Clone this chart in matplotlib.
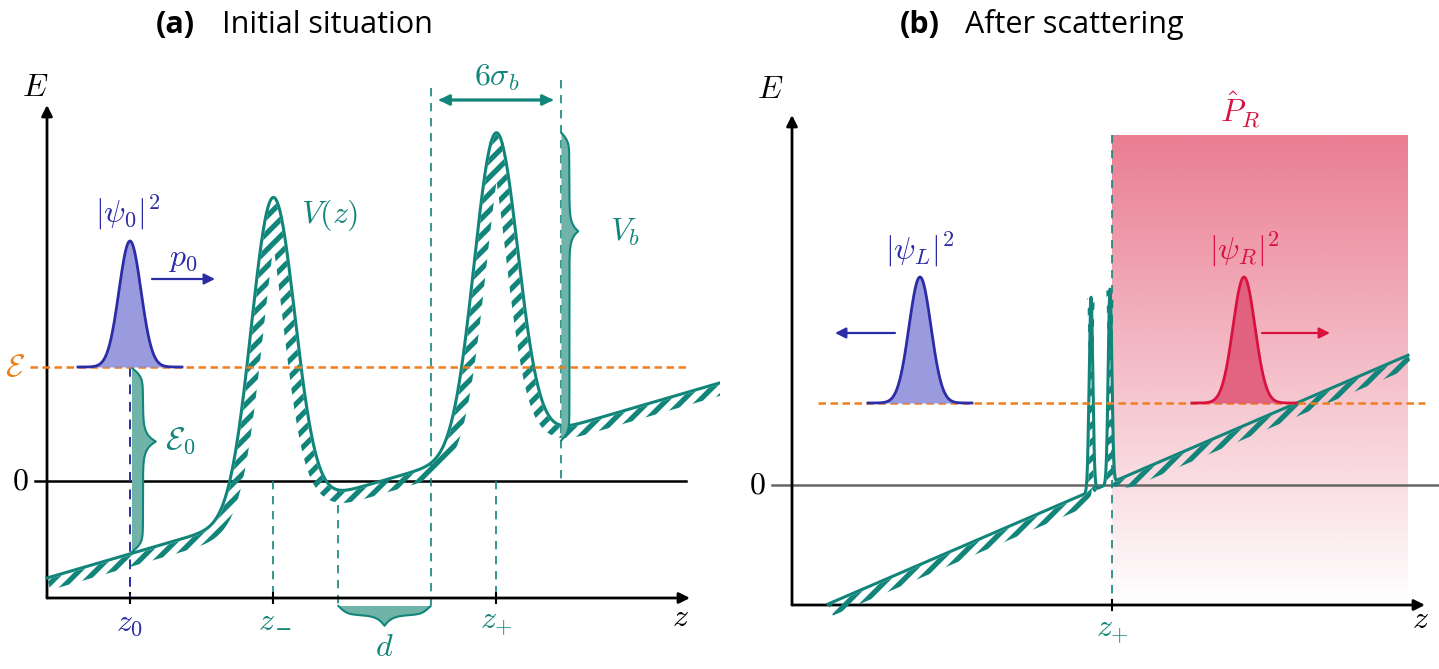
import numpy as np
import matplotlib.pyplot as plt
from matplotlib.patches import Polygon

plt.rcParams['mathtext.fontset'] = 'cm'
plt.rcParams['hatch.linewidth'] = 3.8

TEAL = '#12857b'
TEAL_FILL = '#6fb3a9'
BLUE = '#2c2ca6'
BLUE_FILL = '#8f8fdb'
RED = '#d8123f'
RED_FILL = '#e05a78'
ORANGE = '#f07f1a'

# ---- panel (a): initial situation (1 unit = 100 px) ----
a_background = [-0.97, 0.29]          # offset, slope
a_barriers = [2.26, 4.49]             # z-, z+
a_height = 3.15                       # V_b
a_sigma = 0.218                       # sigma_b
a_energy = 1.14                       # calligraphic E
a_z0 = 0.83
a_zrange = [0.0, 6.73]
a_axes_end = [6.43, 3.76]             # z-axis end, E-axis end
a_bottom = -1.17

# ---- panel (b): after scattering ----
b_background = [-1.345, 0.429]
b_barriers = [2.99, 3.18]
b_height = 1.94
b_sigma = 0.018
b_energy = 0.82
b_zplus = 3.20
b_packets = [1.28, 4.52]              # left / right packet centres
b_zrange = [0.36, 6.16]
b_axes_end = [6.33, 3.70]
b_bottom = -1.20
b_proj_top = 3.50

packet_height = 1.26
packet_sigma = 0.11


def potential(z, bg, pos, height, sigma):
    v = bg[0] + bg[1] * z
    for p in pos:
        v = v + height * np.exp(-(z - p) ** 2 / (2 * sigma ** 2))
    return v


def hatch_band(ax, z, v, d_in=1.5, d_out=12.5):
    pts = ax.transData.transform(np.column_stack([z, v]))
    d = np.gradient(pts, axis=0)
    d /= np.hypot(d[:, 0], d[:, 1])[:, None]
    n = np.column_stack([d[:, 1], -d[:, 0]])
    d_out = np.broadcast_to(d_out, z.shape)[:, None]
    poly = np.vstack([pts + n * d_in, (pts + n * d_out)[::-1]])
    poly = ax.transData.inverted().transform(poly)
    ax.add_patch(Polygon(poly, closed=True, facecolor='none',
                         edgecolor=TEAL, lw=0, hatch='//', zorder=3))


def brace(ax, p0, p1, body, tip, tip_frac=0.5, end=0.09, sharp=0.07):
    p0, p1 = np.array(p0), np.array(p1)
    L = np.hypot(*(p1 - p0))
    u = (p1 - p0) / L
    n = np.array([u[1], -u[0]])
    t = np.linspace(0, L, 400)
    off = body * np.tanh(t / end) * np.tanh((L - t) / end)
    off += (tip - body) * np.exp(-np.abs(t - tip_frac * L) / sharp)
    base = p0 + np.outer(t, u)
    curve = base + np.outer(off, n)
    ax.add_patch(Polygon(np.vstack([base, curve[::-1]]), closed=True,
                         facecolor=TEAL_FILL, edgecolor='none', zorder=4))
    ax.plot(curve[:, 0], curve[:, 1], color=TEAL, lw=1.5, zorder=5)


def packet(ax, zc, base, fill, edge):
    z = np.linspace(zc - 0.52, zc + 0.52, 300)
    y = base + packet_height * np.exp(-(z - zc) ** 2 / (2 * packet_sigma ** 2))
    ax.fill_between(z, base, y, color=fill, alpha=0.9, lw=0, zorder=6)
    ax.plot(z, y, color=edge, lw=2, zorder=7)


def arrow(ax, start, end, color, lw=1.6, scale=16):
    ax.annotate('', xy=end, xytext=start,
                arrowprops=dict(arrowstyle='-|>', color=color, lw=lw,
                                mutation_scale=scale, shrinkA=0, shrinkB=0))


def dashed(ax, x, y0, y1, color=TEAL, lw=1.2):
    ax.plot([x, x], [y0, y1], color=color, lw=lw, ls=(0, (5, 4)), zorder=2)


fig = plt.figure(figsize=(14.39, 6.69), dpi=100)
axa = fig.add_axes([0, 0, 720 / 1439, 619 / 669])
axb = fig.add_axes([725 / 1439, 0, 714 / 1439, 619 / 669])
axa.set_xlim(-0.47, 6.73)
axa.set_ylim(-1.88, 4.31)
axb.set_xlim(-0.67, 6.47)
axb.set_ylim(-1.84, 4.35)
for ax in (axa, axb):
    ax.axis('off')

lab = dict(fontsize=23, ha='center', va='center')

# ================= panel (a) =================
ax = axa
arrow(ax, (0, a_bottom), (a_axes_end[0], a_bottom), 'black', lw=2)
arrow(ax, (0, a_bottom), (0, a_axes_end[1]), 'black', lw=2)
ax.plot([-0.12, 6.39], [0, 0], color='black', lw=1.8, zorder=1)
ax.plot([-0.17, 6.39], [a_energy, a_energy], color=ORANGE, lw=1.8,
        ls=(0, (3, 1.8)), zorder=5)

z = np.linspace(a_zrange[0], a_zrange[1], 3000)
v = potential(z, a_background, a_barriers, a_height, a_sigma)
ax.plot(z, v, color=TEAL, lw=2.2, zorder=4)
hatch_band(ax, z, v)

zm, zp = a_barriers
s3 = 3 * a_sigma
v_at = lambda x: potential(np.array(x), a_background, a_barriers, a_height, a_sigma)
dashed(ax, zm, 0, a_bottom)
dashed(ax, zp, 0, a_bottom)
dashed(ax, zm + s3, v_at(zm + s3), -1.24)
dashed(ax, zp - s3, 3.93, -1.24)
dashed(ax, zp + s3, 4.01, 0)
for zt in (a_z0, zm, zp):
    ax.plot([zt, zt], [a_bottom - 0.05, a_bottom + 0.05], color='black', lw=1.5)

# wave packet
dashed(ax, a_z0, a_energy, a_bottom, color=BLUE, lw=1.4)
packet(ax, a_z0, a_energy, BLUE_FILL, BLUE)
arrow(ax, (1.05, 2.02), (1.68, 2.02), BLUE)

# braces
brace(ax, (a_z0 + 0.02, v_at(a_z0) + 0.02), (a_z0 + 0.02, a_energy - 0.01),
      0.11, 0.24, tip_frac=0.6)
brace(ax, (zp + s3, v_at(zp + s3) - 0.15), (zp + s3, v_at(zp)),
      0.08, 0.17, tip_frac=0.68)
brace(ax, (zm + s3, -1.25), (zp - s3, -1.25), 0.09, 0.2, tip_frac=0.5)
arrow(ax, (zp - s3 + 0.1, 3.81), (zp + s3 - 0.08, 3.81), TEAL, lw=2)
arrow(ax, (zp + s3 - 0.1, 3.81), (zp - s3 + 0.08, 3.81), TEAL, lw=2)

ax.text(-0.12, 3.93, r'$E$', color='black', **lab)
ax.text(6.33, -1.37, r'$z$', color='black', **lab)
ax.text(-0.27, 0, r'$0$', color='black', **lab)
ax.text(-0.32, a_energy, r'$\mathcal{E}$', color=ORANGE, **lab)
ax.text(0.81, 2.68, r'$|\psi_0|^2$', color=BLUE, **lab)
ax.text(1.36, 2.23, r'$p_0$', color=BLUE, **lab)
ax.text(2.83, 2.66, r'$V(z)$', color=TEAL, **lab)
ax.text(5.78, 2.49, r'$V_b$', color=TEAL, **lab)
ax.text(1.33, 0.41, r'$\mathcal{E}_0$', color=TEAL, **lab)
ax.text(4.50, 4.03, r'$6\sigma_b$', color=TEAL, **lab)
ax.text(a_z0, -1.41, r'$z_0$', color=BLUE, **lab)
# mathtext drops a lone subscript minus with the cm fontset: draw it apart
ax.text(zm - 0.07, -1.41, r'$z$', color=TEAL, **lab)
ax.annotate('\u2212', xy=(zm - 0.07, -1.41), xytext=(13, -6),
            textcoords='offset points', color=TEAL, fontsize=15,
            family='DejaVu Serif', ha='center', va='center')
ax.text(zp, -1.41, r'$z_{+}$', color=TEAL, **lab)
ax.text((zm + zp) / 2, -1.67, r'$d$', color=TEAL, **lab)

# ================= panel (b) =================
ax = axb
grad = np.zeros((200, 2, 4))
grad[..., 0] = 225 / 255
grad[..., 1] = 70 / 255
grad[..., 2] = 100 / 255
grad[..., 3] = np.linspace(0.7, 0.0, 200)[:, None]
ax.imshow(grad, extent=[b_zplus, b_zrange[1], b_bottom, b_proj_top],
          aspect='auto', zorder=0, interpolation='bilinear')
ax.set_xlim(-0.67, 6.47)
ax.set_ylim(-1.84, 4.35)

arrow(ax, (0, b_bottom), (b_axes_end[0], b_bottom), 'black', lw=2)
arrow(ax, (0, b_bottom), (0, b_axes_end[1]), 'black', lw=2)
ax.plot([-0.2, 6.47], [0, 0], color='#666666', lw=1.8, zorder=1)
ax.plot([0.26, 6.33], [b_energy, b_energy], color=ORANGE, lw=1.8,
        ls=(0, (3, 1.8)), zorder=5)
dashed(ax, b_zplus, b_proj_top, b_bottom)
ax.plot([b_zplus, b_zplus], [b_bottom - 0.05, b_bottom + 0.05], color='black', lw=1.5)

z = np.linspace(b_zrange[0], b_zrange[1], 8000)
v = potential(z, b_background, b_barriers, b_height, b_sigma)
ax.plot(z, v, color=TEAL, lw=2.2, zorder=4)
narrow = sum(np.exp(-(z - p) ** 2 / (2 * (4 * b_sigma) ** 2)) for p in b_barriers)
hatch_band(ax, z, v, d_out=12.5 - 8.5 * np.clip(narrow, 0, 1))

packet(ax, b_packets[0], b_energy, BLUE_FILL, BLUE)
packet(ax, b_packets[1], b_energy, RED_FILL, RED)
arrow(ax, (b_packets[0] - 0.25, 1.52), (b_packets[0] - 0.85, 1.52), BLUE)
arrow(ax, (b_packets[1] + 0.18, 1.52), (b_packets[1] + 0.86, 1.52), RED)

ax.text(-0.22, 3.95, r'$E$', color='black', **lab)
ax.text(6.28, -1.35, r'$z$', color='black', **lab)
ax.text(-0.35, 0, r'$0$', color='black', **lab)
ax.text(b_packets[0], 2.35, r'$|\psi_L|^2$', color=BLUE, **lab)
ax.text(b_packets[1], 2.35, r'$|\psi_R|^2$', color=RED, **lab)
ax.text(4.48, 3.75, r'$\hat{P}_R$', color=RED, **lab)
ax.text(b_zplus, -1.45, r'$z_{+}$', color=TEAL, **lab)

# titles
tfont = dict(family='Open Sans', fontsize=22, va='center')
fig.text(175 / 1439, 1 - 25 / 669, '(a)', fontweight='bold', ha='center', **tfont)
fig.text(222 / 1439, 1 - 25 / 669, 'Initial situation', ha='left', **tfont)
fig.text(920 / 1439, 1 - 25 / 669, '(b)', fontweight='bold', ha='center', **tfont)
fig.text(965 / 1439, 1 - 25 / 669, 'After scattering', ha='left', **tfont)

fig.savefig('out.png', dpi=100)
